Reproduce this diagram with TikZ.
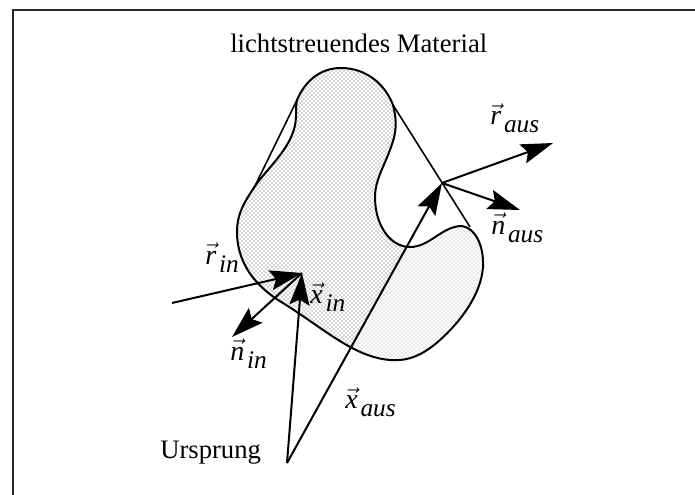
\documentclass[tikz,border=0pt]{standalone}
\usepackage{amsmath}
\usepackage{fontspec}
\setmainfont{Liberation Serif}
\usetikzlibrary{arrows.meta,patterns}
\newcommand{\vlab}[2]{$\vec{\hbox{\textit{#1}}}$\raisebox{-6pt}{\kern0.1em\fontsize{19}{22}\selectfont\textit{#2}}}
\tikzset{
  frame/.style={draw=black!85,line width=1.1pt},
  outline/.style={draw=black,line width=1.5pt,line join=round},
  tangent/.style={draw=black,line width=1.2pt},
  ray/.style={draw=black,line width=1.5pt,-{Stealth[length=24pt,width=15pt,inset=4pt]}},
  lab/.style={inner sep=0pt,anchor=base west,font=\fontsize{21}{24}\selectfont},
  txt/.style={inner sep=0pt,anchor=base west,font=\fontsize{20}{24}\selectfont}
}
\def\blob{(297,100) .. controls (306,79) and (322,68) .. (341,68)
  .. controls (366,68) and (385,84) .. (393,105)
  .. controls (398,125) and (396,135) .. (388,155)
  .. controls (382,170) and (375,182) .. (375,197)
  .. controls (375,225) and (390,247) .. (410,247)
  .. controls (430,247) and (442,226) .. (462,226)
  .. controls (475,228) and (484,245) .. (483,267)
  .. controls (481,295) and (460,322) .. (440,340)
  .. controls (420,358) and (405,361) .. (390,360)
  .. controls (352,357) and (320,325) .. (278,300)
  .. controls (252,283) and (237,260) .. (237,232)
  .. controls (237,212) and (246,200) .. (255,186)
  .. controls (270,165) and (295,145) .. (296,117)
  .. controls (296,110) and (296,105) .. (297,100) -- cycle}
\begin{document}
\begin{tikzpicture}[x=0.75pt,y=-0.75pt]
\useasboundingbox (0,0) rectangle (695,495);
\fill[white] (0,0) rectangle (695,495);
% frame: only the top and left edges lie inside the picture
\coordinate (fa) at (13,495);
\coordinate (fb) at (13,10);
\coordinate (fc) at (695,10);
\draw[frame] (fa) -- (fb) -- (fc);
% stippled body
\begin{scope}
  \clip \blob;
  \fill[pattern=crosshatch dots,pattern color=black!70] (230,60) -- (442,60) -- (442,183) -- (287,463) -- (230,463) -- cycle;
  \fill[pattern=crosshatch dots,pattern color=black!38] (442,183) -- (490,183) -- (490,463) -- (287,463) -- cycle;
\end{scope}
\draw[outline] \blob;
% tangents
\coordinate (ta) at (297,100);
\coordinate (tb) at (253,190);
\coordinate (tc) at (393,105);
\coordinate (td) at (470,227);
\draw[tangent] (ta) -- (tb);
\draw[tangent] (tc) -- (td);
% points
\coordinate (rinS) at (172,303);
\coordinate (pin) at (302,273);
\coordinate (nin) at (232,337);
\coordinate (org) at (287,463);
\coordinate (pout) at (442,183);
\coordinate (raus) at (553,143);
\coordinate (naus) at (520,210);
\draw[ray] (rinS) -- (pin);
\draw[ray] (pin) -- (nin);
\draw[ray] (org) -- (pin);
\draw[ray] (org) -- (pout);
\draw[ray] (pout) -- (raus);
\draw[ray] (pout) -- (naus);
% labels
\node[txt] (title) at (230,53) {lichtstreuendes Material};
\node[txt] (ursprung) at (160,458) {Ursprung};
\node[lab] (lrin) at (205,264) {\vlab{r}{in}};
\node[lab] (lxin) at (310,303) {\vlab{x}{in}};
\node[lab] (lnin) at (230,360) {\vlab{n}{in}};
\node[lab] (lxaus) at (345,408) {\vlab{x}{aus}};
\node[lab] (lraus) at (490,125) {\vlab{r}{aus}};
\node[lab] (lnaus) at (491,234) {\vlab{n}{aus}};
\end{tikzpicture}
\end{document}
